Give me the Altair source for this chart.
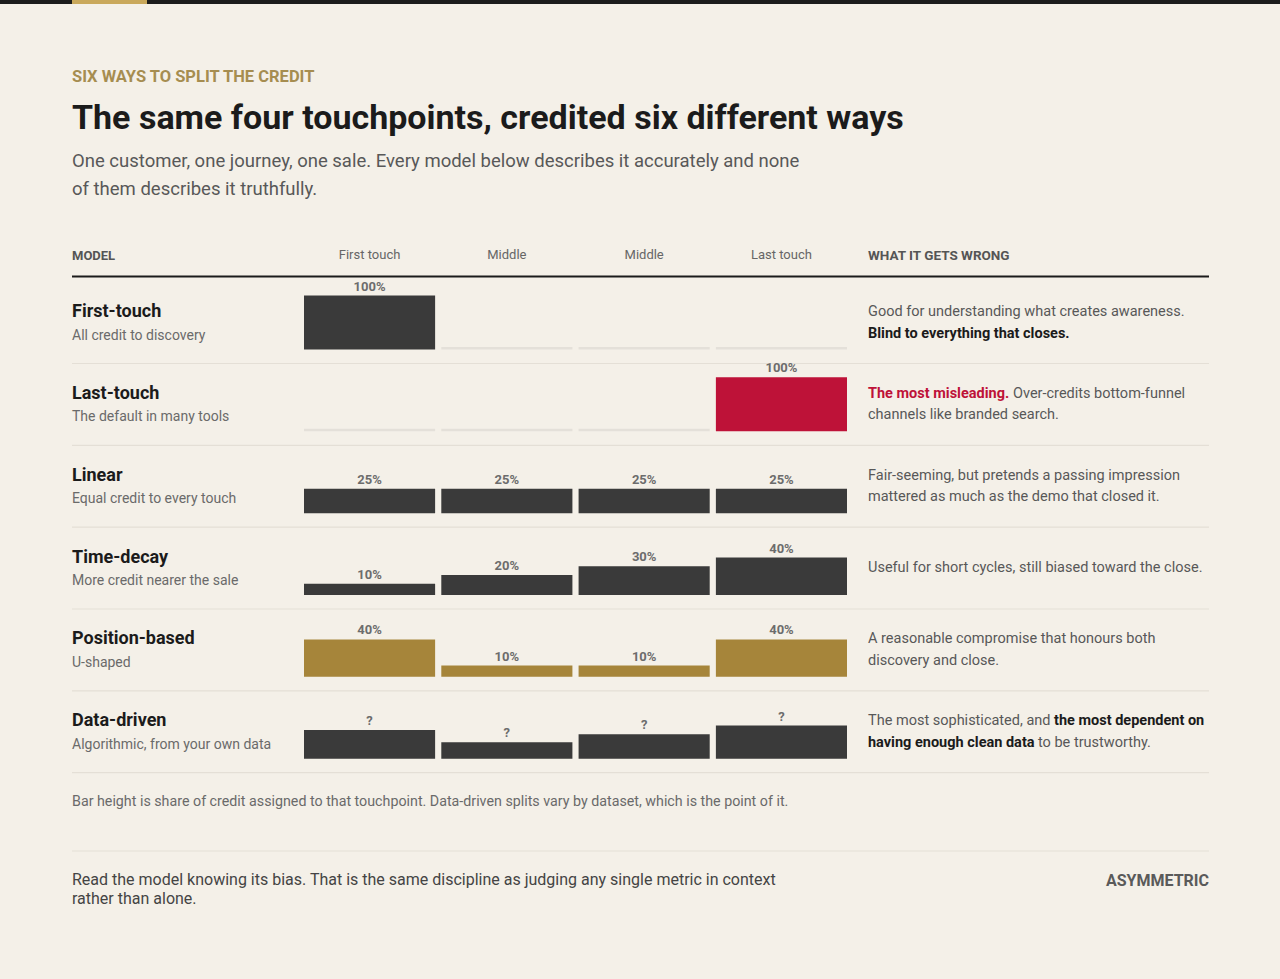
import altair as alt
import pandas as pd

# ---------------- data ----------------
touch_ids = ["t1", "t2", "t3", "t4"]
touch_labels = ["First touch", "Middle", "Middle", "Last touch"]

models = ["First-touch", "Last-touch", "Linear", "Time-decay", "Position-based", "Data-driven"]
model_subs = [
    "All credit to discovery",
    "The default in many tools",
    "Equal credit to every touch",
    "More credit nearer the sale",
    "U-shaped",
    "Algorithmic, from your own data",
]

first_touch = [100, 0, 0, 0]
last_touch = [0, 0, 0, 100]
linear = [25, 25, 25, 25]
time_decay = [10, 20, 30, 40]
position_based = [40, 10, 10, 40]
data_driven = [30, 16, 25, 35]  # the chart labels them "?"
credits = [first_touch, last_touch, linear, time_decay, position_based, data_driven]
labels_known = [True, True, True, True, True, False]

# notes: list of lines, each line a list of (text, style)
notes = [
    [[("Good for understanding what creates awareness.", "reg")],
     [("Blind to everything that closes.", "bold")]],
    [[("The most misleading.", "red"), ("Over-credits bottom-funnel", "reg")],
     [("channels like branded search.", "reg")]],
    [[("Fair-seeming, but pretends a passing impression", "reg")],
     [("mattered as much as the demo that closed it.", "reg")]],
    [[("Useful for short cycles, still biased toward the close.", "reg")]],
    [[("A reasonable compromise that honours both", "reg")],
     [("discovery and close.", "reg")]],
    [[("The most sophisticated, and", "reg"), ("the most dependent on", "bold")],
     [("having enough clean data", "bold"), ("to be trustworthy.", "reg")]],
]

kicker = "SIX WAYS TO SPLIT THE CREDIT"
title = "The same four touchpoints, credited six different ways"
subtitle = [
    "One customer, one journey, one sale. Every model below describes it accurately and none",
    "of them describes it truthfully.",
]
footnote = "Bar height is share of credit assigned to that touchpoint. Data-driven splits vary by dataset, which is the point of it."
closing = [
    "Read the model knowing its bias. That is the same discipline as judging any single metric in context",
    "rather than alone.",
]
brand = "ASYMMETRIC"

# ---------------- style / layout ----------------
FONT = "Roboto"
BG = "#f4f0e8"
INK = "#1b1b1b"
BAR_DARK = "#3a3a3a"
RED = "#be1238"
GOLD = "#a6853a"
ZERO = "#e4e0d9"
MUTED = "#585858"
SUBC = "#6a6a6a"
LABELC = "#6c6c6c"
SEPC = "#e4dfd6"
KICKC = "#a68d50"

row_colors = [BAR_DARK, RED, BAR_DARK, BAR_DARK, GOLD, BAR_DARK]
style_map = {"reg": (MUTED, "normal"), "bold": (INK, "bold"), "red": (RED, "bold")}

LEFT, RIGHT, NOTE_X = 72, 1209, 868
STEP = 81.84
BASE0 = 349.5
BAR_MAX = 54
SEP0 = 363.5
NAME0, SUB0 = 317, 339.5
NOTE1, NOTE2 = 316, 337.5
NOTE_SIZE = 14.5
# horizontal starts of inline note segments (row, line) -> x list
seg_x = {(1, 0): [NOTE_X, 1013], (5, 0): [NOTE_X, 1054], (5, 1): [NOTE_X, 1038]}

xscale = alt.Scale(domain=touch_ids, range=[304, 847], paddingInner=0.045, paddingOuter=0)


def txt(s, x, y, size, color, weight="normal", align="left"):
    return alt.Chart(pd.DataFrame({"s": [s]})).mark_text(
        align=align, baseline="alphabetic", font=FONT, fontSize=size,
        fontWeight=weight, color=color,
    ).encode(x=alt.value(x), y=alt.value(y), text="s:N")


def rect(x, x2, y, y2, color):
    return alt.Chart(pd.DataFrame({"a": [0]})).mark_rect(color=color).encode(
        x=alt.value(x), x2=alt.value(x2), y=alt.value(y), y2=alt.value(y2))


def rule(x, x2, y, color, w):
    return alt.Chart(pd.DataFrame({"a": [0]})).mark_rule(color=color, strokeWidth=w).encode(
        x=alt.value(x), x2=alt.value(x2), y=alt.value(y))


layers = []
# top strip
layers.append(rect(0, 1280, 0, 4, "#1c1c1c"))
layers.append(rect(72, 147, 0, 4, "#c9a85b"))

# header block
layers.append(txt(kicker, LEFT, 81.5, 16.5, KICKC, "bold"))
layers.append(txt(title, LEFT, 129, 34, INK, "bold"))
layers.append(txt(subtitle[0], LEFT, 166.5, 18.5, MUTED))
layers.append(txt(subtitle[1], LEFT, 194.5, 18.5, MUTED))

layers.append(txt("MODEL", LEFT, 260, 13, "#555555", "bold"))
layers.append(txt("WHAT IT GETS WRONG", NOTE_X, 260, 13.5, "#555555", "bold"))
head_df = pd.DataFrame({"tid": touch_ids, "lab": touch_labels})
layers.append(
    alt.Chart(head_df).mark_text(font=FONT, fontSize=13, color="#666666", baseline="alphabetic").encode(
        x=alt.X("tid:N", scale=xscale, axis=None), y=alt.value(259), text="lab:N")
)
layers.append(rule(LEFT, RIGHT, 276.5, INK, 2))

# rows
for i, m in enumerate(models):
    base = BASE0 + i * STEP
    vals = credits[i]
    df = pd.DataFrame({
        "tid": touch_ids,
        "value": vals,
        "label": [(f"{v}%" if labels_known[i] else "?") if v > 0 else "" for v in vals],
    })
    yscale = alt.Scale(domain=[-3, 59], range=[base, base - BAR_MAX], clamp=True, nice=False, zero=False)
    bars = alt.Chart(df).mark_bar().encode(
        x=alt.X("tid:N", scale=xscale, axis=None),
        y=alt.Y("value:Q", scale=yscale, axis=None),
        y2=alt.datum(-3),
        color=alt.condition(alt.datum.value == 0, alt.value(ZERO), alt.value(row_colors[i])),
    )
    labs = alt.Chart(df).mark_text(
        font=FONT, fontSize=13, fontWeight="bold", color=LABELC, baseline="alphabetic", dy=-5
    ).encode(
        x=alt.X("tid:N", scale=xscale, axis=None),
        y=alt.Y("value:Q", scale=yscale, axis=None),
        text="label:N",
    )
    layers.append(alt.layer(bars, labs))

    off = i * STEP
    layers.append(txt(m, LEFT, NAME0 + off, 18, INK, "bold"))
    layers.append(txt(model_subs[i], LEFT, SUB0 + off, 14, SUBC))

    lines = notes[i]
    if len(lines) == 1:
        ys = [(NOTE1 + NOTE2) / 2 + off]
    else:
        ys = [NOTE1 + off, NOTE2 + off]
    for li, segs in enumerate(lines):
        xs = seg_x.get((i, li), [NOTE_X])
        for si, (s, st) in enumerate(segs):
            col, wt = style_map[st]
            layers.append(txt(s, xs[si], ys[li], NOTE_SIZE, col, wt))

    layers.append(rule(LEFT, RIGHT, SEP0 + off, SEPC, 1.2))

# footer
layers.append(txt(footnote, LEFT, 806, 14.25, SUBC))
layers.append(rule(LEFT, RIGHT, 851, SEPC, 1.2))
layers.append(txt(closing[0], LEFT, 885, 16, "#444444"))
layers.append(txt(closing[1], LEFT, 903.5, 16, "#444444"))
layers.append(txt(brand, RIGHT, 886, 16, "#5a5a5a", "bold", align="right"))

chart = (
    alt.layer(*layers)
    .resolve_scale(y="independent")
    .properties(width=1280, height=979, padding=0,
                autosize=alt.AutoSizeParams(type="none"), background=BG)
    .configure_view(stroke=None)
)

chart.save("out.html", embed_options={"renderer": "svg", "actions": False})
